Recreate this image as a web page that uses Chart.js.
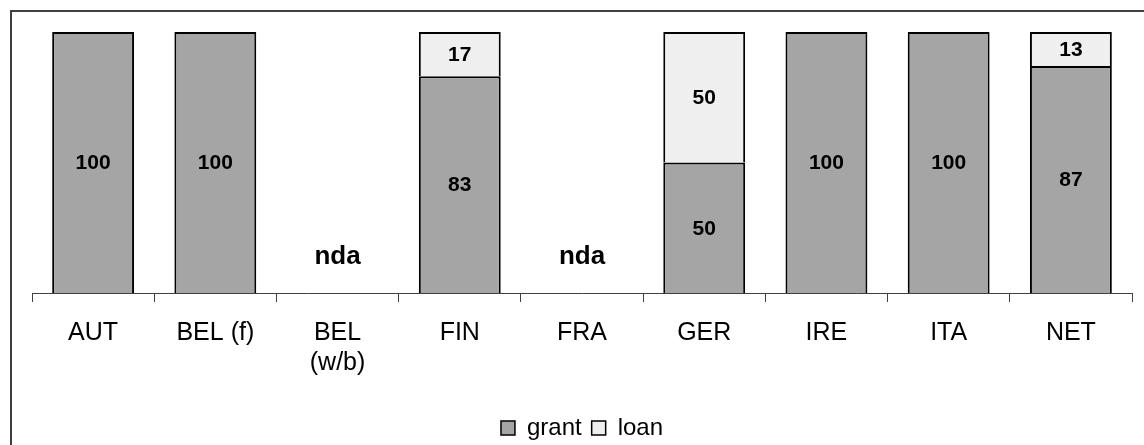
<!DOCTYPE html>
<html>
<head>
<meta charset="utf-8">
<script src="https://cdn.jsdelivr.net/npm/chart.js@4/dist/chart.umd.min.js"></script>
<style>
  html, body { margin: 0; padding: 0; background: #fff; }
  #wrap { width: 1144px; height: 445px; position: relative; }
</style>
</head>
<body>
<div id="wrap"><canvas id="chart"></canvas></div>
<script>
// chart data
const categories = ["AUT", "BEL (f)", ["BEL", "(w/b)"], "FIN", "FRA", "GER", "IRE", "ITA", "NET"];
const grant = [100, 100, null, 83, null, 50, 100, 100, 87];
const loan = [null, null, null, 17, null, 50, null, null, 13];
const noDataLabel = "nda";
const noDataAt = 14; // value height where "nda" is written

const FONT = "'Liberation Sans', Arial, sans-serif";

// frame (left + top lines) around the chart
const framePlugin = {
    id: "frame",
    beforeDraw(chart) {
        const ctx = chart.ctx;
        ctx.save();
        ctx.strokeStyle = "#404040";
        ctx.lineWidth = 2;
        ctx.beginPath();
        ctx.moveTo(11, chart.height);
        ctx.lineTo(11, 11);
        ctx.lineTo(chart.width, 11);
        ctx.stroke();
        ctx.restore();
    }
};

// value labels inside bars + "nda" for missing categories
const labelPlugin = {
    id: "valueLabels",
    afterDatasetsDraw(chart) {
        const ctx = chart.ctx;
        ctx.save();
        ctx.fillStyle = "#000";
        ctx.textAlign = "center";
        ctx.textBaseline = "middle";
        ctx.font = "bold 21px " + FONT;
        chart.data.datasets.forEach((ds, di) => {
            const meta = chart.getDatasetMeta(di);
            meta.data.forEach((bar, i) => {
                const v = ds.data[i];
                if (v == null) return;
                ctx.fillText(v, bar.x, (bar.y + bar.base) / 2 + 1);
            });
        });
        const xs = chart.scales.x, ys = chart.scales.y;
        ctx.font = "bold 26px " + FONT;
        grant.forEach((v, i) => {
            if (v == null && loan[i] == null) {
                ctx.fillText(noDataLabel, xs.getPixelForValue(i), ys.getPixelForValue(noDataAt));
            }
        });
        ctx.restore();
    }
};

new Chart(document.getElementById("chart"), {
    type: "bar",
    data: {
        labels: categories,
        datasets: [
            {
                label: "grant",
                data: grant,
                backgroundColor: "#a5a5a5",
                borderColor: "#000",
                borderWidth: 2,
                categoryPercentage: 1,
                barPercentage: 0.67
            },
            {
                label: "loan",
                data: loan,
                backgroundColor: "#efefef",
                borderColor: "#000",
                borderWidth: 2,
                categoryPercentage: 1,
                barPercentage: 0.67
            }
        ]
    },
    options: {
        responsive: true,
        maintainAspectRatio: false,
        animation: false,
        layout: { padding: { left: 32, right: 12, top: 32, bottom: -5 } },
        scales: {
            x: {
                stacked: true,
                grid: {
                    display: true,
                    offset: true,
                    drawOnChartArea: false,
                    drawTicks: true,
                    tickLength: 9,
                    color: "#404040"
                },
                border: { color: "#404040", width: 1 },
                ticks: {
                    color: "#000",
                    font: { family: FONT, size: 25 },
                    padding: 16,
                    maxRotation: 0,
                    autoSkip: false
                },
                // extra room between the tick labels and the legend
                afterFit(scale) { scale.height += 12; }
            },
            y: {
                stacked: true,
                display: false,
                min: 0,
                max: 100
            }
        },
        plugins: {
            legend: {
                position: "bottom",
                labels: {
                    color: "#000",
                    font: { family: FONT, size: 24 },
                    boxWidth: 14,
                    boxHeight: 14,
                    padding: 10,
                    generateLabels(chart) {
                        return chart.data.datasets.map((ds, i) => ({
                            text: ds.label,
                            fillStyle: ds.backgroundColor,
                            strokeStyle: "#000",
                            lineWidth: 1.5,
                            datasetIndex: i,
                            hidden: false
                        }));
                    }
                }
            },
            tooltip: { enabled: false }
        }
    },
    plugins: [framePlugin, labelPlugin]
});
</script>
</body>
</html>
